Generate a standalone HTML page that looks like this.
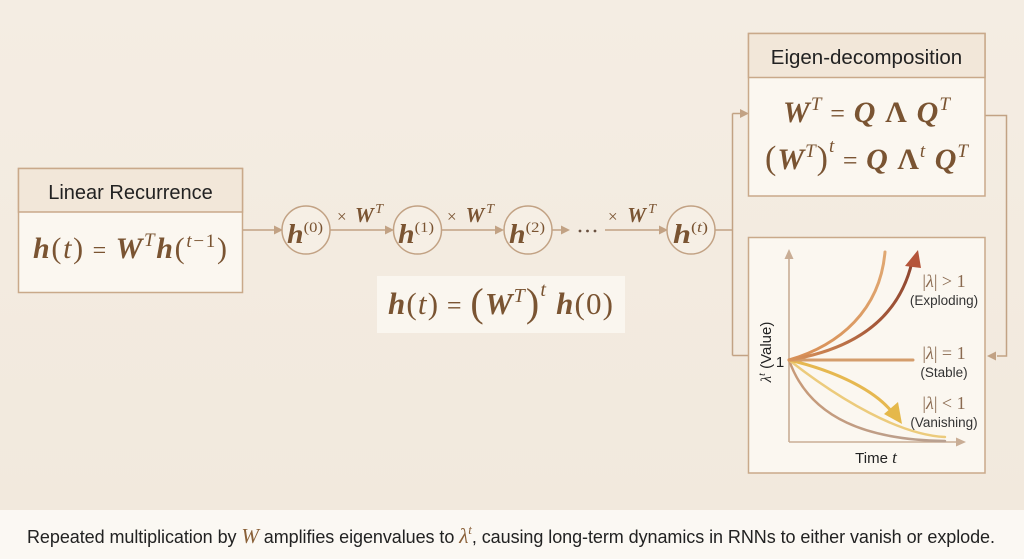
<!DOCTYPE html>
<html>
<head>
<meta charset="utf-8">
<style>
html,body{margin:0;padding:0;}
body{width:1024px;height:559px;overflow:hidden;background:#f3ebe0;}
svg{display:block;}
.sans{font-family:"Liberation Sans",Arial,sans-serif;}
.serif{font-family:"Liberation Serif","Times New Roman",serif;}
.m{font-family:"Liberation Serif","Times New Roman",serif;fill:#7a5432;}
.bi{font-weight:bold;font-style:italic;}
.it{font-style:italic;}
.b{font-weight:bold;}
</style>
</head>
<body>
<svg width="1024" height="559" viewBox="0 0 1024 559" xmlns="http://www.w3.org/2000/svg">
  <defs>
    <linearGradient id="bg" x1="0" y1="0" x2="0" y2="1">
      <stop offset="0" stop-color="#f4ede3"/>
      <stop offset="1" stop-color="#f2e9dd"/>
    </linearGradient>
    <linearGradient id="gRed" x1="0" y1="1" x2="1" y2="0">
      <stop offset="0" stop-color="#d9955c"/>
      <stop offset="0.5" stop-color="#a85a3a"/>
      <stop offset="1" stop-color="#8e4630"/>
    </linearGradient>
    <linearGradient id="gOr" x1="0" y1="1" x2="1" y2="0">
      <stop offset="0" stop-color="#d88e55"/>
      <stop offset="1" stop-color="#e0a872"/>
    </linearGradient>
    <linearGradient id="gGrey" x1="0" y1="0" x2="1" y2="0">
      <stop offset="0" stop-color="#c89a78"/>
      <stop offset="1" stop-color="#b8a091"/>
    </linearGradient>
  </defs>

  <!-- background -->
  <rect x="0" y="0" width="1024" height="510" fill="url(#bg)"/>
  <rect x="0" y="510" width="1024" height="49" fill="#fbf8f3"/>

  <!-- ===== Linear Recurrence box ===== -->
  <rect x="18.5" y="168.5" width="224" height="124" fill="#fbf7f0" stroke="#c9a98a" stroke-width="1.5"/>
  <rect x="18.5" y="168.5" width="224" height="43.5" fill="#f2e7d9" stroke="#c9a98a" stroke-width="1.5"/>
  <text x="130.5" y="199" text-anchor="middle" class="sans" font-size="20" fill="#222">Linear Recurrence</text>
  <text class="m" x="33" y="258" font-size="30" textLength="194" lengthAdjust="spacing"><tspan class="bi">h</tspan>(<tspan class="it">t</tspan>)<tspan font-size="24"> = </tspan><tspan class="bi">W</tspan><tspan class="it" font-size="19" dy="-12">T</tspan><tspan class="bi" dy="12">h</tspan>(<tspan class="it" font-size="19" dy="-11">t</tspan><tspan font-size="19">−1</tspan><tspan dy="11">)</tspan></text>

  <!-- ===== connectors chain ===== -->
  <g stroke="#c2a284" stroke-width="1.5" fill="none">
    <line x1="243" y1="230" x2="276" y2="230"/>
    <line x1="330" y1="230" x2="387" y2="230"/>
    <line x1="442" y1="230" x2="497" y2="230"/>
    <line x1="552" y1="230" x2="563" y2="230"/>
    <line x1="605" y1="230" x2="661" y2="230"/>
    <polyline points="715,230 732.5,230"/>
    <polyline points="732.5,113.5 732.5,355.5"/>
    <polyline points="732.5,113.5 742,113.5"/>
    <polyline points="732.5,355.5 748,355.5"/>
    <polyline points="985,115.5 1006.5,115.5 1006.5,356 997,356"/>
  </g>
  <g fill="#c2a284">
    <polygon points="283,230 274,225.5 274,234.5"/>
    <polygon points="394,230 385,225.5 385,234.5"/>
    <polygon points="504,230 495,225.5 495,234.5"/>
    <polygon points="570,230 561,225.5 561,234.5"/>
    <polygon points="668,230 659,225.5 659,234.5"/>
    <polygon points="749,113.5 740,109 740,118"/>
    <polygon points="987,356 996,351.5 996,360.5"/>
  </g>
  <!-- dots -->
  <g fill="#6a5140">
    <circle cx="580" cy="231" r="1.4"/>
    <circle cx="587.5" cy="231" r="1.4"/>
    <circle cx="595" cy="231" r="1.4"/>
  </g>

  <!-- circles -->
  <g fill="#f6efe5" stroke="#c2a284" stroke-width="1.5">
    <circle cx="306" cy="230" r="24"/>
    <circle cx="417.5" cy="230" r="24"/>
    <circle cx="528" cy="230" r="24"/>
    <circle cx="691" cy="230" r="24"/>
  </g>
  <text class="m" x="287" y="243" font-size="27" textLength="36" lengthAdjust="spacingAndGlyphs"><tspan class="bi">h</tspan><tspan font-size="15" dy="-11">(0)</tspan></text>
  <text class="m" x="398" y="243" font-size="27" textLength="36" lengthAdjust="spacingAndGlyphs"><tspan class="bi">h</tspan><tspan font-size="15" dy="-11">(1)</tspan></text>
  <text class="m" x="509" y="243" font-size="27" textLength="36" lengthAdjust="spacingAndGlyphs"><tspan class="bi">h</tspan><tspan font-size="15" dy="-11">(2)</tspan></text>
  <text class="m" x="673" y="243" font-size="27" textLength="35" lengthAdjust="spacingAndGlyphs"><tspan class="bi">h</tspan><tspan font-size="15" dy="-11">(</tspan><tspan font-size="15" class="it">t</tspan><tspan font-size="15">)</tspan></text>

  <!-- ×W^T labels -->
  <text class="m" x="337" y="222" font-size="21" textLength="46" lengthAdjust="spacing"><tspan font-size="17">×</tspan> <tspan class="bi">W</tspan><tspan class="it" font-size="14" dy="-9">T</tspan></text>
  <text class="m" x="447" y="222" font-size="21" textLength="47" lengthAdjust="spacing"><tspan font-size="17">×</tspan> <tspan class="bi">W</tspan><tspan class="it" font-size="14" dy="-9">T</tspan></text>
  <text class="m" x="608" y="222" font-size="21" textLength="48" lengthAdjust="spacing"><tspan font-size="17">×</tspan> <tspan class="bi">W</tspan><tspan class="it" font-size="14" dy="-9">T</tspan></text>

  <!-- middle formula box -->
  <rect x="377" y="276" width="248" height="57" fill="#faf6ef"/>
  <text class="m" x="388" y="314" font-size="31" textLength="225" lengthAdjust="spacing"><tspan class="bi">h</tspan>(<tspan class="it">t</tspan>)<tspan font-size="26"> = </tspan><tspan font-size="40" dy="2">(</tspan><tspan class="bi" dy="-2">W</tspan><tspan class="it" font-size="20" dy="-12">T</tspan><tspan font-size="40" dy="14">)</tspan><tspan class="it" font-size="20" dy="-20">t</tspan><tspan class="bi" dy="18"> h</tspan>(0)</text>

  <!-- ===== Eigen-decomposition box ===== -->
  <rect x="748.5" y="33.5" width="236.5" height="162.5" fill="#fbf7f0" stroke="#c9a98a" stroke-width="1.5"/>
  <rect x="748.5" y="33.5" width="236.5" height="44" fill="#f2e7d9" stroke="#c9a98a" stroke-width="1.5"/>
  <text x="866.5" y="64" text-anchor="middle" class="sans" font-size="20.5" fill="#222">Eigen-decomposition</text>
  <text class="m" x="783" y="122" font-size="30" textLength="167" lengthAdjust="spacing"><tspan class="bi">W</tspan><tspan class="it" font-size="19" dy="-12">T</tspan><tspan dy="12" font-size="26"> = </tspan><tspan class="bi">Q</tspan> <tspan class="b">Λ</tspan> <tspan class="bi">Q</tspan><tspan class="it" font-size="19" dy="-12">T</tspan></text>
  <text class="m" x="765" y="169" font-size="30" textLength="203" lengthAdjust="spacing"><tspan font-size="34">(</tspan><tspan class="bi">W</tspan><tspan class="it" font-size="19" dy="-12">T</tspan><tspan font-size="34" dy="12">)</tspan><tspan class="it" font-size="19" dy="-17">t</tspan><tspan dy="17" font-size="26"> = </tspan><tspan class="bi">Q</tspan> <tspan class="b">Λ</tspan><tspan class="it" font-size="19" dy="-12">t</tspan><tspan class="bi" dy="12"> Q</tspan><tspan class="it" font-size="19" dy="-12">T</tspan></text>

  <!-- ===== Chart box ===== -->
  <rect x="748.5" y="237.5" width="236.5" height="235.5" fill="#fbf7f0" stroke="#c9a98a" stroke-width="1.5"/>
  <!-- axes -->
  <g stroke="#c9ad95" stroke-width="1.6" fill="none">
    <line x1="789" y1="442" x2="789" y2="258"/>
    <line x1="789" y1="442" x2="958" y2="442"/>
  </g>
  <g fill="#c9ad95">
    <polygon points="789,249 784.5,259 793.5,259"/>
    <polygon points="966,442 956,437.5 956,446.5"/>
  </g>

  <!-- curves -->
  <g fill="none" stroke-linecap="round">
    <path d="M789,360 C810,420 870,440 945,441" stroke="url(#gGrey)" stroke-width="2.5"/>
    <path d="M789,360 C840,400 900,435 945,437" stroke="#eccb7c" stroke-width="2.5"/>
    <path d="M789,360 C840,372 876,392 892,412" stroke="#e6b850" stroke-width="3"/>
    <path d="M789,360 L913,360" stroke="#d49d6c" stroke-width="3"/>
    <path d="M789,360 C840,345 880,310 885,252" stroke="url(#gOr)" stroke-width="3"/>
    <path d="M789,360 C850,350 898,322 912,262" stroke="url(#gRed)" stroke-width="3"/>
  </g>
  <polygon points="918,250 905,266 921,268" fill="#b5553a"/>
  <polygon points="902,424 884,414 898,402" fill="#e5b84a"/>

  <!-- chart labels -->
  <text x="780" y="367" text-anchor="middle" class="sans" font-size="15" fill="#222">1</text>
  <text transform="translate(771,352) rotate(-90)" text-anchor="middle" class="sans" font-size="15" fill="#222"><tspan class="serif it">λ</tspan><tspan class="serif it" font-size="10" dy="-6">t</tspan><tspan dy="6"> (Value)</tspan></text>
  <text x="876" y="463" text-anchor="middle" class="sans" font-size="15" fill="#222">Time <tspan class="serif it" font-size="17">t</tspan></text>

  <text x="944" y="287" text-anchor="middle" class="serif" font-size="18" fill="#8a6a50">|<tspan class="it">λ</tspan>| &gt; 1</text>
  <text x="944" y="305" text-anchor="middle" class="sans" font-size="13.5" fill="#333">(Exploding)</text>
  <text x="944" y="359" text-anchor="middle" class="serif" font-size="18" fill="#8a6a50">|<tspan class="it">λ</tspan>| = 1</text>
  <text x="944" y="377" text-anchor="middle" class="sans" font-size="13.5" fill="#333">(Stable)</text>
  <text x="944" y="409" text-anchor="middle" class="serif" font-size="18" fill="#8a6a50">|<tspan class="it">λ</tspan>| &lt; 1</text>
  <text x="944" y="427" text-anchor="middle" class="sans" font-size="13.5" fill="#333">(Vanishing)</text>

  <!-- caption -->
  <text x="27" y="543" class="sans" font-size="18" fill="#222" textLength="968" lengthAdjust="spacing">Repeated multiplication by <tspan class="serif it" fill="#8a6038" font-size="21">W</tspan> amplifies eigenvalues to <tspan class="serif it" fill="#8a6038" font-size="21">λ</tspan><tspan class="serif it" fill="#8a6038" font-size="13" dy="-9">t</tspan><tspan dy="9">, causing long-term dynamics in RNNs to either vanish or explode.</tspan></text>
</svg>
</body>
</html>
